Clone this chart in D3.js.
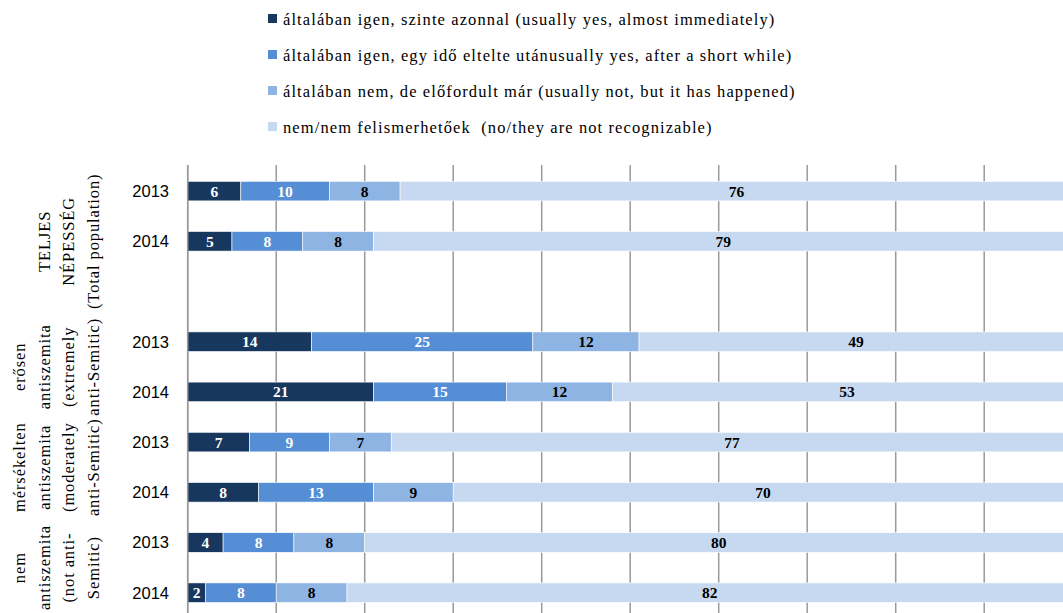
<!DOCTYPE html>
<html>
<head>
<meta charset="utf-8">
<script src="https://cdn.jsdelivr.net/npm/d3@7"></script>
<style>
  html, body { margin: 0; padding: 0; background: #fff; overflow: hidden; }
  svg { display: block; }
</style>
</head>
<body>
<svg id="chart" width="1063" height="613"></svg>
<script>
// ---- data ----
const rowKeys = ["t13", "t14", "gap", "e13", "e14", "m13", "m14", "n13", "n14"];
const years = ["2013", "2014", "", "2013", "2014", "2013", "2014", "2013", "2014"];
const seriesNames = [
  "általában igen, szinte azonnal (usually yes, almost immediately)",
  "általában igen, egy idő eltelte utánusually yes, after a short while)",
  "általában nem, de előfordult már (usually not, but it has happened)",
  "nem/nem felismerhetőek  (no/they are not recognizable)"
];
const immediately = [6, 5, null, 14, 21, 7, 8, 4, 2];
const afterWhile = [10, 8, null, 25, 15, 9, 13, 8, 8];
const happened = [8, 8, null, 12, 12, 7, 9, 8, 8];
const notRecognizable = [76, 79, null, 49, 53, 77, 70, 80, 82];
const groupLabels = [
  ["TELJES", "NÉPESSÉG", "(Total population)"],
  ["erősen", "antiszemita", "(extremely", "anti-Semitic)"],
  ["mérsékelten", "antiszemita", "(moderately", "anti-Semitic)"],
  ["nem", "antiszemita", "(not anti-", "Semitic)"]
];
const groupFirstRow = ["t13", "e13", "m13", "n13"];
const groupLastRow = ["gap", "e14", "m14", "n14"];
const xTicks = [0, 10, 20, 30, 40, 50, 60, 70, 80, 90, 100];

// ---- styles ----
const colors = ["#17375E", "#558ED5", "#8EB4E3", "#C6D9F1"];
const labelColors = ["#ffffff", "#ffffff", "#000000", "#000000"];
const serif = "'Liberation Serif', 'DejaVu Serif', serif";
const sans = "'Liberation Sans', Arial, sans-serif";

const svg = d3.select("#chart");
const series = [immediately, afterWhile, happened, notRecognizable];

const x = d3.scaleLinear().domain([0, 100]).range([187.7, 1072.7]);
const y = d3.scaleBand().domain(rowKeys).range([166, 166 + 9 * 50.2])
  .paddingInner(0.61).paddingOuter(0.305);

const plotTop = 165, plotBottom = 613;

// gridlines
svg.append("g").selectAll("line").data(xTicks).join("line")
  .attr("x1", d => x(d)).attr("x2", d => x(d))
  .attr("y1", plotTop).attr("y2", plotBottom)
  .attr("stroke", "#999").attr("stroke-width", 1.5);

// stacked rows
const rows = rowKeys.map((k, i) => {
  let acc = 0;
  const segs = [];
  series.forEach((s, si) => {
    const v = s[i];
    if (v == null) return;
    segs.push({ key: k, si, v, x0: acc, x1: acc + v });
    acc += v;
  });
  return segs;
}).flat();

svg.append("g").selectAll("rect").data(rows).join("rect")
  .attr("x", d => x(d.x0))
  .attr("y", d => y(d.key))
  .attr("width", d => x(d.x1) - x(d.x0))
  .attr("height", y.bandwidth())
  .attr("fill", d => colors[d.si])
  .attr("stroke", "#ffffff").attr("stroke-width", 0.6);

svg.append("g").selectAll("text").data(rows).join("text")
  .attr("x", d => x((d.x0 + d.x1) / 2))
  .attr("y", d => y(d.key) + y.bandwidth() / 2)
  .attr("dy", "0.36em")
  .attr("text-anchor", "middle")
  .attr("font-family", serif).attr("font-weight", "bold").attr("font-size", 15.5)
  .attr("fill", d => labelColors[d.si])
  .text(d => d.v);

// axis line
svg.append("line")
  .attr("x1", x(0)).attr("x2", x(0)).attr("y1", plotTop).attr("y2", plotBottom)
  .attr("stroke", "#999").attr("stroke-width", 1.5);

// year labels
svg.append("g").selectAll("text").data(rowKeys.filter((k, i) => years[i]))
  .join("text")
  .attr("x", 169)
  .attr("y", d => y(d) + y.bandwidth() / 2)
  .attr("dy", "0.36em")
  .attr("text-anchor", "end")
  .attr("font-family", sans).attr("font-size", 16.5).attr("fill", "#000")
  .text(d => years[rowKeys.indexOf(d)]);

// group labels (rotated)
groupLabels.forEach((lines, gi) => {
  const top = y(groupFirstRow[gi]) - y.step() * y.paddingInner() / 2;
  const bottom = y(groupLastRow[gi]) + y.bandwidth() + y.step() * y.paddingInner() / 2;
  const cy = (top + bottom) / 2;
  const n = lines.length;
  const g = svg.append("g");
  lines.forEach((ln, li) => {
    const cx = 93 - (n - 1 - li) * 24.5;
    g.append("text")
      .attr("transform", `translate(${cx},${cy}) rotate(-90)`)
      .attr("dy", "0.36em")
      .attr("text-anchor", "middle")
      .attr("font-family", serif).attr("font-size", 16.5)
      .attr("letter-spacing", 0.9).attr("fill", "#000")
      .text(ln);
  });
});

// legend
const legend = svg.append("g");
seriesNames.forEach((name, i) => {
  const cy = 19 + i * 36;
  legend.append("rect")
    .attr("x", 268).attr("y", cy - 5).attr("width", 9).attr("height", 9)
    .attr("fill", colors[i]);
  legend.append("text")
    .attr("x", 283).attr("y", cy).attr("dy", "0.34em")
    .attr("font-family", serif).attr("font-size", 16.5)
    .attr("letter-spacing", 1.1).attr("fill", "#000")
    .attr("xml:space", "preserve")
    .style("white-space", "pre")
    .text(name);
});
</script>
</body>
</html>
